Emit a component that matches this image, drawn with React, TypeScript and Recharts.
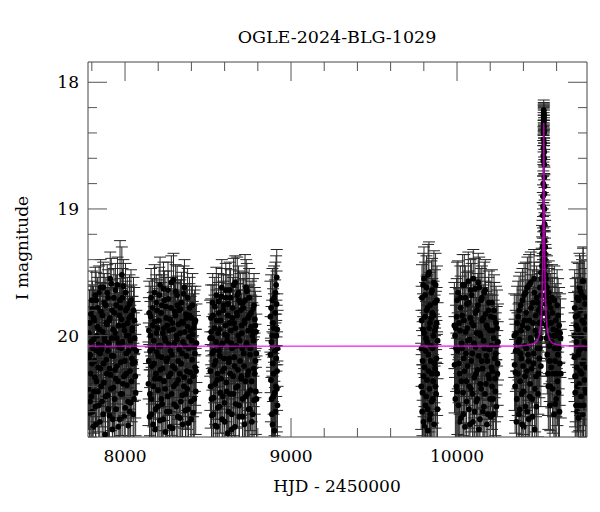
import { ErrorBar, Label, Scatter, ScatterChart, XAxis, YAxis } from "recharts";

// OGLE photometry, one list per observing season: [HJD-2450000, I mag, error]
const season1: number[][] = [
  [7780, 20.42, 0.32], [7783, 19.98, 0.26], [7787, 20.61, 0.36], [7790, 20.15, 0.29], [7794, 19.83, 0.23],
  [7797, 20.48, 0.33], [7801, 20.22, 0.3], [7804, 19.79, 0.22], [7808, 20.72, 0.38], [7811, 20.03, 0.26],
  [7815, 19.88, 0.24], [7819, 20.33, 0.31], [7822, 20.56, 0.35], [7826, 19.72, 0.22], [7829, 20.12, 0.28],
  [7833, 19.93, 0.25], [7837, 20.44, 0.32], [7840, 20.07, 0.27], [7844, 19.66, 0.21], [7848, 20.68, 0.37],
  [7851, 20.26, 0.3], [7855, 19.81, 0.23], [7858, 20.11, 0.28], [7862, 20.52, 0.34], [7866, 19.97, 0.25],
  [7869, 19.62, 0.2], [7873, 20.37, 0.31], [7877, 20.01, 0.26], [7880, 20.78, 0.39], [7884, 19.76, 0.22],
  [7888, 20.19, 0.29], [7891, 19.91, 0.24], [7895, 20.47, 0.33], [7898, 19.7, 0.22], [7902, 20.06, 0.27],
  [7906, 20.63, 0.36], [7909, 19.86, 0.24], [7913, 20.31, 0.3], [7917, 19.59, 0.2], [7920, 20.16, 0.28],
  [7924, 20.74, 0.38], [7928, 19.95, 0.25], [7931, 20.41, 0.32], [7935, 19.82, 0.23], [7939, 20.27, 0.3],
  [7942, 19.64, 0.21], [7946, 20.58, 0.35], [7950, 20.02, 0.26], [7957, 20.36, 0.31], [7961, 19.92, 0.25],
  [7964, 20.09, 0.28], [7968, 20.66, 0.37], [7970, 19.72, 0.47], [7972, 19.78, 0.23], [7975, 20.21, 0.29],
  [7979, 19.87, 0.24], [7981, 19.52, 0.22], [7983, 20.46, 0.33], [7986, 20.05, 0.27], [7990, 19.61, 0.21],
  [7994, 20.32, 0.31], [7997, 19.96, 0.25], [8001, 20.57, 0.35], [8005, 19.8, 0.23], [8008, 20.14, 0.28],
  [8012, 20.39, 0.32], [8016, 19.9, 0.25], [8019, 20.71, 0.38], [8023, 20.0, 0.26], [8027, 19.75, 0.23],
  [8030, 20.28, 0.3], [8034, 20.53, 0.34], [8038, 19.84, 0.24], [8041, 20.18, 0.29], [8045, 19.94, 0.25],
  [8049, 20.62, 0.36], [8053, 20.1, 0.28], [8056, 19.88, 0.26], [8060, 20.21, 0.3], [8064, 20.45, 0.34],
  [8068, 20.12, 0.32],
  [7782, 20.18, 0.3], [7786, 19.9, 0.26], [7789, 20.52, 0.35], [7793, 20.3, 0.31], [7796, 20.05, 0.27],
  [7800, 19.72, 0.23], [7803, 20.6, 0.37], [7807, 20.1, 0.28], [7810, 19.86, 0.25], [7813, 20.44, 0.33],
  [7817, 20.2, 0.3], [7821, 19.68, 0.22], [7824, 20.7, 0.38], [7828, 20.36, 0.32], [7831, 20.0, 0.27],
  [7835, 19.78, 0.24], [7839, 20.25, 0.3], [7842, 20.55, 0.35], [7846, 19.95, 0.26], [7850, 20.14, 0.28],
  [7853, 19.62, 0.22], [7857, 20.4, 0.32], [7860, 20.08, 0.28], [7864, 19.84, 0.25], [7868, 20.62, 0.37],
  [7871, 20.22, 0.3], [7875, 19.74, 0.23], [7879, 20.04, 0.27], [7882, 20.48, 0.34], [7886, 19.9, 0.26],
  [7890, 20.3, 0.31], [7893, 19.66, 0.22], [7897, 20.12, 0.29], [7900, 20.58, 0.36], [7904, 19.88, 0.25],
  [7908, 20.26, 0.3], [7911, 19.55, 0.21], [7915, 20.42, 0.33], [7919, 20.02, 0.27], [7922, 19.8, 0.24],
  [7926, 20.66, 0.37], [7930, 20.16, 0.29], [7933, 19.7, 0.23], [7937, 20.5, 0.34], [7941, 19.98, 0.26],
  [7944, 20.34, 0.31], [7948, 19.76, 0.24], [7952, 20.24, 0.3], [7955, 19.6, 0.22], [7959, 20.72, 0.38],
  [7963, 20.06, 0.28], [7966, 19.84, 0.25], [7974, 20.46, 0.33], [7977, 20.1, 0.28], [7985, 19.7, 0.23],
  [7988, 20.38, 0.32], [7992, 19.92, 0.26], [7995, 20.64, 0.37], [7999, 20.2, 0.29], [8003, 19.66, 0.23],
  [8007, 20.3, 0.31], [8010, 20.0, 0.27], [8014, 19.78, 0.24], [8018, 20.52, 0.35], [8021, 20.12, 0.29],
  [8025, 19.86, 0.25], [8029, 20.6, 0.36], [8032, 20.04, 0.28], [8036, 19.72, 0.24], [8040, 20.36, 0.32],
  [8043, 19.96, 0.27], [8047, 20.22, 0.3], [8051, 19.8, 0.26], [8054, 20.5, 0.35], [8058, 20.02, 0.29],
  [8062, 20.32, 0.33],
];

const season2: number[][] = [
  [8141, 20.38, 0.33], [8144, 19.96, 0.26], [8148, 20.64, 0.37], [8151, 20.12, 0.29], [8155, 19.85, 0.24],
  [8158, 20.5, 0.34], [8162, 20.24, 0.3], [8166, 19.78, 0.23], [8169, 20.7, 0.38], [8173, 20.04, 0.27],
  [8177, 19.89, 0.24], [8180, 20.34, 0.31], [8184, 20.58, 0.35], [8188, 19.74, 0.22], [8191, 20.13, 0.28],
  [8195, 19.94, 0.25], [8199, 20.43, 0.32], [8202, 20.08, 0.27], [8206, 19.68, 0.22], [8210, 20.67, 0.37],
  [8213, 20.27, 0.3], [8217, 19.82, 0.24], [8221, 20.17, 0.29], [8224, 20.54, 0.34], [8228, 19.98, 0.26],
  [8232, 19.63, 0.21], [8235, 20.36, 0.31], [8239, 20.02, 0.26], [8243, 20.76, 0.39], [8246, 19.77, 0.23],
  [8250, 20.2, 0.29], [8254, 19.92, 0.25], [8257, 20.48, 0.33], [8261, 19.71, 0.22], [8265, 20.07, 0.27],
  [8268, 20.6, 0.36], [8272, 19.87, 0.24], [8276, 20.3, 0.3], [8279, 19.58, 0.21], [8283, 20.15, 0.28],
  [8287, 20.73, 0.38], [8290, 19.95, 0.25], [8294, 20.4, 0.32], [8298, 19.81, 0.23], [8301, 20.26, 0.3],
  [8305, 19.65, 0.21], [8309, 20.56, 0.35], [8312, 20.03, 0.26], [8316, 19.76, 0.23], [8320, 20.35, 0.31],
  [8323, 19.91, 0.25], [8327, 20.11, 0.28], [8331, 20.65, 0.37], [8334, 19.79, 0.23], [8338, 20.22, 0.29],
  [8342, 19.89, 0.24], [8345, 20.47, 0.33], [8349, 20.05, 0.27], [8353, 19.67, 0.22], [8356, 20.33, 0.31],
  [8360, 19.97, 0.25], [8364, 20.59, 0.35], [8367, 19.83, 0.24], [8371, 20.16, 0.28], [8375, 20.42, 0.32],
  [8378, 19.93, 0.25], [8382, 20.69, 0.38], [8386, 20.01, 0.26], [8389, 19.78, 0.24], [8393, 20.29, 0.3],
  [8397, 20.52, 0.34], [8400, 19.86, 0.25], [8404, 20.19, 0.29], [8408, 19.99, 0.26], [8411, 20.61, 0.36],
  [8415, 20.09, 0.28], [8419, 19.9, 0.26], [8422, 20.25, 0.3], [8426, 20.44, 0.34], [8430, 20.06, 0.31],
  [8143, 20.2, 0.3], [8146, 19.82, 0.25], [8150, 20.46, 0.33], [8153, 20.0, 0.27], [8157, 19.7, 0.23],
  [8160, 20.62, 0.37], [8164, 20.1, 0.28], [8167, 19.92, 0.26], [8171, 20.4, 0.32], [8175, 20.22, 0.3],
  [8178, 19.66, 0.22], [8182, 20.74, 0.39], [8186, 20.3, 0.31], [8189, 19.98, 0.26], [8193, 19.8, 0.24],
  [8197, 20.56, 0.35], [8200, 20.16, 0.29], [8204, 19.88, 0.25], [8208, 20.34, 0.32], [8211, 19.6, 0.22],
  [8215, 20.08, 0.28], [8219, 20.5, 0.34], [8222, 19.76, 0.24], [8226, 20.26, 0.3], [8230, 20.66, 0.37],
  [8233, 19.94, 0.26], [8237, 19.72, 0.23], [8241, 20.42, 0.33], [8244, 20.04, 0.27], [8248, 19.86, 0.25],
  [8252, 20.6, 0.36], [8255, 20.18, 0.29], [8259, 19.64, 0.22], [8263, 20.32, 0.31], [8266, 19.96, 0.26],
  [8270, 20.72, 0.38], [8274, 20.12, 0.28], [8277, 19.78, 0.24], [8281, 20.46, 0.33], [8285, 19.9, 0.26],
  [8288, 20.24, 0.3], [8292, 19.56, 0.21], [8296, 20.54, 0.35], [8299, 20.06, 0.28], [8303, 19.84, 0.25],
  [8307, 20.38, 0.32], [8310, 20.0, 0.27], [8314, 19.68, 0.23], [8318, 20.64, 0.37], [8321, 20.2, 0.29],
  [8325, 19.8, 0.24], [8329, 20.3, 0.31], [8332, 19.98, 0.26], [8336, 20.52, 0.35], [8340, 19.74, 0.24],
  [8344, 20.14, 0.29], [8347, 20.7, 0.38], [8351, 19.9, 0.26], [8355, 20.4, 0.33], [8358, 19.62, 0.22],
  [8362, 20.08, 0.28], [8366, 20.46, 0.34], [8369, 19.86, 0.25], [8373, 20.28, 0.31], [8377, 19.7, 0.23],
  [8380, 20.58, 0.36], [8384, 20.1, 0.28], [8388, 19.84, 0.25], [8391, 20.36, 0.32], [8395, 19.96, 0.27],
  [8399, 20.66, 0.37], [8402, 20.04, 0.28], [8406, 19.76, 0.25], [8410, 20.32, 0.32], [8413, 19.94, 0.27],
  [8417, 20.5, 0.35], [8421, 20.14, 0.3], [8424, 19.88, 0.27], [8428, 20.28, 0.33],
];

const season3: number[][] = [
  [8513, 20.02, 0.3], [8516, 20.4, 0.33], [8519, 19.97, 0.26], [8523, 20.63, 0.37], [8526, 20.14, 0.29],
  [8530, 19.84, 0.24], [8533, 20.49, 0.34], [8537, 20.23, 0.3], [8541, 19.77, 0.23], [8544, 20.71, 0.38],
  [8548, 20.05, 0.27], [8552, 19.88, 0.24], [8555, 20.35, 0.31], [8559, 20.57, 0.35], [8563, 19.73, 0.22],
  [8566, 20.12, 0.28], [8570, 19.95, 0.25], [8574, 20.45, 0.32], [8577, 20.08, 0.27], [8581, 19.69, 0.22],
  [8585, 20.66, 0.37], [8588, 20.28, 0.3], [8592, 19.8, 0.23], [8596, 20.18, 0.29], [8599, 20.53, 0.34],
  [8603, 19.99, 0.26], [8607, 19.64, 0.21], [8610, 20.37, 0.31], [8614, 20.0, 0.26], [8618, 20.77, 0.39],
  [8621, 19.75, 0.23], [8625, 20.21, 0.29], [8629, 19.9, 0.25], [8632, 20.46, 0.33], [8636, 19.7, 0.22],
  [8640, 20.06, 0.27], [8643, 20.62, 0.36], [8647, 19.86, 0.24], [8651, 20.32, 0.3], [8654, 19.6, 0.21],
  [8658, 20.17, 0.28], [8662, 20.72, 0.38], [8665, 19.94, 0.25], [8669, 20.41, 0.32], [8673, 19.82, 0.23],
  [8676, 19.68, 0.3], [8680, 20.27, 0.3], [8684, 19.66, 0.21], [8687, 20.55, 0.35], [8691, 20.04, 0.26],
  [8695, 19.74, 0.23], [8698, 20.34, 0.31], [8702, 19.92, 0.25], [8706, 20.1, 0.28], [8709, 20.64, 0.37],
  [8713, 19.78, 0.23], [8717, 20.24, 0.29], [8720, 19.88, 0.24], [8723, 19.72, 0.36], [8727, 20.48, 0.33],
  [8731, 20.07, 0.27], [8734, 19.65, 0.22], [8738, 20.31, 0.31], [8742, 19.96, 0.25], [8745, 20.58, 0.35],
  [8749, 19.84, 0.24], [8753, 20.15, 0.28], [8756, 20.43, 0.32], [8760, 19.93, 0.25], [8764, 20.68, 0.38],
  [8767, 20.0, 0.26], [8771, 19.79, 0.24], [8775, 20.26, 0.3], [8778, 20.51, 0.34], [8782, 19.87, 0.25],
  [8786, 20.2, 0.29], [8789, 19.97, 0.28], [8792, 20.5, 0.34],
  [8514, 20.28, 0.31], [8518, 19.86, 0.26], [8521, 20.5, 0.34], [8525, 20.02, 0.28], [8528, 19.74, 0.23],
  [8532, 20.62, 0.37], [8535, 20.12, 0.29], [8539, 19.94, 0.26], [8543, 20.38, 0.32], [8546, 20.2, 0.3],
  [8550, 19.68, 0.22], [8554, 20.72, 0.39], [8557, 20.3, 0.31], [8561, 19.98, 0.27], [8565, 19.82, 0.24],
  [8568, 20.56, 0.35], [8572, 20.16, 0.29], [8576, 19.88, 0.25], [8579, 20.34, 0.32], [8583, 19.62, 0.22],
  [8587, 20.06, 0.28], [8590, 20.48, 0.34], [8594, 19.76, 0.24], [8598, 20.26, 0.3], [8601, 20.68, 0.38],
  [8605, 19.92, 0.26], [8609, 19.7, 0.23], [8612, 20.44, 0.33], [8616, 20.04, 0.27], [8620, 19.84, 0.25],
  [8623, 20.6, 0.36], [8627, 20.18, 0.29], [8631, 19.64, 0.22], [8634, 20.3, 0.31], [8638, 19.96, 0.26],
  [8642, 20.74, 0.39], [8645, 20.1, 0.28], [8649, 19.78, 0.24], [8653, 20.46, 0.33], [8656, 19.9, 0.26],
  [8660, 20.24, 0.3], [8664, 19.58, 0.21], [8667, 20.54, 0.35], [8671, 20.08, 0.28], [8675, 19.84, 0.25],
  [8678, 20.4, 0.32], [8682, 20.0, 0.27], [8686, 19.72, 0.23], [8689, 20.64, 0.37], [8693, 20.2, 0.29],
  [8697, 19.8, 0.24], [8700, 20.32, 0.31], [8704, 19.98, 0.26], [8708, 20.5, 0.35], [8711, 19.74, 0.24],
  [8715, 20.14, 0.29], [8719, 20.7, 0.38], [8722, 19.9, 0.26], [8726, 20.36, 0.33], [8730, 19.62, 0.22],
  [8733, 20.06, 0.28], [8737, 20.46, 0.34], [8741, 19.86, 0.25], [8744, 20.28, 0.31], [8748, 19.7, 0.23],
  [8752, 20.58, 0.36], [8755, 20.1, 0.28], [8759, 19.82, 0.25], [8763, 20.36, 0.32], [8766, 19.96, 0.27],
  [8770, 20.62, 0.37], [8774, 20.04, 0.28], [8777, 19.76, 0.25], [8781, 20.3, 0.32], [8785, 19.92, 0.27],
  [8788, 20.44, 0.34], [8791, 20.14, 0.31],
];

const season4: number[][] = [
  [8876, 19.85, 0.28], [8879, 20.35, 0.33], [8882, 20.05, 0.28], [8885, 20.62, 0.37], [8888, 19.72, 0.25],
  [8891, 20.22, 0.3], [8894, 20.48, 0.34], [8897, 19.94, 0.27], [8900, 20.75, 0.39], [8903, 20.12, 0.29],
  [8906, 19.66, 0.24], [8909, 20.4, 0.32], [8910, 19.6, 0.23], [8912, 20.0, 0.28], [8914, 19.54, 0.22],
  [8916, 20.28, 0.31], [8918, 20.55, 0.35],
  [8877, 20.15, 0.3], [8880, 19.78, 0.26], [8883, 20.5, 0.35], [8886, 20.0, 0.28], [8889, 20.7, 0.38],
  [8892, 19.9, 0.27], [8895, 20.3, 0.32], [8898, 19.7, 0.25], [8901, 20.45, 0.34], [8904, 19.82, 0.26],
  [8907, 20.6, 0.37], [8911, 20.18, 0.3], [8913, 19.75, 0.26], [8915, 20.42, 0.34], [8917, 19.95, 0.28],
  [8919, 20.1, 0.3],
];

const season5: number[][] = [
  [9786, 20.1, 0.3], [9789, 19.7, 0.26], [9792, 20.45, 0.34], [9795, 19.95, 0.28], [9798, 20.68, 0.38],
  [9801, 19.55, 0.25], [9804, 20.25, 0.31], [9807, 19.85, 0.27], [9810, 20.55, 0.36], [9813, 20.02, 0.29],
  [9816, 19.62, 0.25], [9819, 20.35, 0.33], [9822, 19.78, 0.26], [9825, 20.75, 0.4], [9828, 20.15, 0.3],
  [9831, 19.5, 0.24], [9834, 20.42, 0.34], [9837, 19.9, 0.27], [9840, 20.62, 0.37], [9843, 20.08, 0.29],
  [9846, 19.66, 0.25], [9849, 20.3, 0.32], [9852, 19.82, 0.27], [9855, 20.5, 0.35], [9858, 20.0, 0.29],
  [9861, 19.58, 0.25], [9864, 20.22, 0.31], [9867, 19.74, 0.26], [9870, 20.4, 0.33], [9873, 19.93, 0.28],
  [9876, 20.18, 0.3], [9879, 19.72, 0.27], [9882, 20.58, 0.36],
  [9784, 20.4, 0.34], [9787, 19.88, 0.27], [9790, 20.6, 0.37], [9793, 20.2, 0.31], [9796, 19.6, 0.25],
  [9799, 20.32, 0.32], [9802, 19.98, 0.28], [9805, 20.72, 0.39], [9808, 19.68, 0.26], [9811, 20.12, 0.3],
  [9814, 20.48, 0.35], [9817, 19.8, 0.27], [9820, 20.05, 0.29], [9823, 20.58, 0.36], [9826, 19.52, 0.24],
  [9829, 20.28, 0.32], [9832, 19.94, 0.28], [9835, 20.66, 0.38], [9838, 19.76, 0.26], [9841, 20.2, 0.31],
  [9844, 19.86, 0.27], [9847, 20.52, 0.35], [9850, 19.64, 0.25], [9853, 20.1, 0.3], [9856, 20.36, 0.33],
  [9859, 19.84, 0.27], [9862, 20.7, 0.39], [9865, 19.96, 0.28], [9868, 20.26, 0.32], [9871, 19.6, 0.25],
  [9874, 20.46, 0.35], [9877, 19.9, 0.28], [9880, 20.3, 0.33], [9883, 20.04, 0.3],
];

const season6: number[][] = [
  [9985, 20.23, 0.38], [9988, 20.0, 0.33], [9992, 19.94, 0.32], [9996, 20.4, 0.42], [10000, 19.72, 0.3],
  [10004, 20.12, 0.3], [10008, 20.55, 0.36], [10012, 19.9, 0.27], [10016, 20.3, 0.32], [10020, 19.7, 0.25],
  [10024, 20.65, 0.38], [10028, 20.06, 0.28], [10032, 19.84, 0.26], [10036, 20.45, 0.34], [10040, 20.18, 0.3],
  [10044, 19.6, 0.24], [10048, 20.72, 0.39], [10052, 19.97, 0.27], [10056, 20.36, 0.33], [10060, 19.75, 0.25],
  [10064, 20.24, 0.31], [10068, 19.57, 0.23], [10072, 20.58, 0.36], [10076, 20.03, 0.28], [10080, 19.86, 0.26],
  [10084, 20.42, 0.34], [10088, 19.68, 0.25], [10092, 20.14, 0.3], [10096, 20.68, 0.38], [10100, 19.92, 0.27],
  [10104, 20.33, 0.32], [10108, 19.63, 0.24], [10112, 20.09, 0.29], [10116, 20.52, 0.35], [10120, 19.8, 0.26],
  [10124, 20.27, 0.31], [10128, 19.58, 0.23], [10132, 20.74, 0.4], [10136, 19.98, 0.28], [10140, 20.38, 0.33],
  [10144, 19.72, 0.25], [10148, 20.2, 0.3], [10152, 19.88, 0.26], [10156, 20.6, 0.37], [10160, 20.04, 0.28],
  [10164, 19.66, 0.24], [10168, 20.46, 0.34], [10172, 19.83, 0.26], [10176, 20.16, 0.3], [10180, 20.7, 0.39],
  [10184, 19.94, 0.27], [10188, 20.31, 0.32], [10192, 19.74, 0.25], [10196, 20.11, 0.29], [10200, 20.5, 0.35],
  [10204, 19.85, 0.27], [10208, 20.25, 0.31], [10211, 20.4, 0.34], [10215, 19.96, 0.28], [10219, 20.62, 0.37],
  [10223, 19.8, 0.28], [10227, 20.18, 0.31], [10231, 20.44, 0.35], [10235, 19.9, 0.29], [10239, 20.08, 0.31],
  [10243, 20.3, 0.34], [10247, 20.05, 0.3],
  [9984, 19.92, 0.34], [9990, 20.5, 0.4], [9994, 20.1, 0.34], [9998, 19.85, 0.3], [10002, 20.44, 0.34],
  [10006, 19.66, 0.25], [10010, 20.22, 0.31], [10014, 20.68, 0.38], [10018, 19.96, 0.27], [10022, 19.78, 0.25],
  [10026, 20.36, 0.33], [10030, 20.1, 0.29], [10034, 19.6, 0.24], [10038, 20.62, 0.37], [10042, 19.88, 0.26],
  [10046, 20.28, 0.32], [10050, 19.7, 0.25], [10054, 20.14, 0.3], [10058, 20.52, 0.35], [10062, 19.94, 0.27],
  [10066, 20.04, 0.28], [10070, 19.74, 0.25], [10074, 20.4, 0.33], [10078, 20.7, 0.39], [10082, 19.64, 0.24],
  [10086, 20.2, 0.3], [10090, 19.9, 0.27], [10094, 20.46, 0.34], [10098, 19.55, 0.23], [10102, 20.06, 0.29],
  [10106, 20.6, 0.37], [10110, 19.82, 0.26], [10114, 20.3, 0.32], [10118, 19.98, 0.28], [10122, 20.5, 0.35],
  [10126, 19.76, 0.25], [10130, 20.16, 0.3], [10134, 19.62, 0.24], [10138, 20.66, 0.38], [10142, 20.0, 0.28],
  [10146, 20.42, 0.34], [10150, 19.7, 0.25], [10154, 20.26, 0.31], [10158, 19.86, 0.26], [10162, 20.56, 0.36],
  [10166, 20.1, 0.29], [10170, 19.64, 0.24], [10174, 20.38, 0.33], [10178, 19.92, 0.27], [10182, 20.2, 0.31],
  [10186, 20.62, 0.37], [10190, 19.8, 0.26], [10194, 20.34, 0.32], [10198, 19.96, 0.28], [10202, 20.64, 0.38],
  [10206, 20.08, 0.29], [10210, 19.74, 0.26], [10213, 20.28, 0.32], [10217, 20.5, 0.36], [10221, 20.02, 0.3],
  [10225, 19.86, 0.28], [10229, 20.34, 0.34], [10233, 20.14, 0.32], [10237, 20.56, 0.37], [10241, 19.94, 0.3],
  [10245, 20.22, 0.33],
];

const season7: number[][] = [
  [10347, 20.23, 0.36], [10352, 20.29, 0.38], [10356, 19.98, 0.3], [10360, 20.5, 0.36], [10364, 20.12, 0.3],
  [10368, 19.85, 0.28], [10372, 20.62, 0.38], [10376, 20.03, 0.29], [10380, 20.36, 0.33], [10384, 19.76, 0.26],
  [10388, 20.18, 0.3], [10392, 20.7, 0.39], [10396, 19.92, 0.28], [10400, 20.44, 0.34], [10404, 19.68, 0.25],
  [10408, 20.08, 0.29], [10412, 20.56, 0.36], [10416, 19.82, 0.26], [10420, 20.28, 0.31], [10424, 19.62, 0.24],
  [10428, 20.15, 0.3], [10432, 20.66, 0.38], [10436, 19.88, 0.27], [10440, 20.38, 0.33], [10444, 19.58, 0.24],
  [10448, 20.04, 0.29], [10452, 20.5, 0.35], [10456, 19.74, 0.26], [10460, 20.22, 0.31], [10464, 19.55, 0.23],
  [10468, 20.74, 0.4], [10472, 19.96, 0.28], [10476, 20.32, 0.32], [10480, 19.7, 0.25], [10484, 20.1, 0.3],
  [10488, 20.46, 0.34], [10492, 19.8, 0.26], [10496, 20.18, 0.31], [10500, 19.62, 0.25], [10503, 20.02, 0.3],
  [10506, 19.5, 0.24], [10509, 19.82, 0.27], [10512, 19.35, 0.22], [10514, 19.62, 0.25], [10516, 19.15, 0.2],
  [10517, 19.05, 0.18], [10518, 18.9, 0.16], [10519, 19.4, 0.22], [10519.5, 18.8, 0.15], [10520, 18.62, 0.12],
  [10520.5, 18.52, 0.11], [10521, 18.45, 0.1], [10521.5, 18.36, 0.1], [10522, 18.3, 0.09], [10522.2, 18.27, 0.09],
  [10522.5, 18.24, 0.08], [10522.8, 18.26, 0.08], [10523, 18.28, 0.09], [10523.2, 18.31, 0.09], [10523.5, 18.35, 0.09],
  [10524, 18.4, 0.1], [10525, 18.55, 0.11], [10525.5, 18.65, 0.12], [10526, 18.75, 0.14], [10526.5, 18.88, 0.15],
  [10527, 19.0, 0.17], [10528, 19.25, 0.2], [10528.5, 19.35, 0.21], [10530, 19.45, 0.22], [10532, 19.6, 0.24],
  [10534, 19.75, 0.26], [10536, 19.55, 0.24], [10538, 19.92, 0.28], [10541, 19.7, 0.26], [10544, 20.15, 0.31],
  [10547, 19.85, 0.28], [10550, 20.4, 0.34], [10553, 19.66, 0.25], [10556, 20.08, 0.3], [10560, 20.55, 0.37],
  [10564, 19.78, 0.27], [10568, 20.25, 0.32], [10572, 19.7, 0.26], [10576, 20.42, 0.35], [10580, 19.95, 0.29],
  [10584, 20.62, 0.38], [10588, 20.1, 0.31], [10591, 20.54, 0.37], [10595, 19.88, 0.29], [10599, 20.3, 0.34],
  [10603, 19.76, 0.28], [10607, 20.15, 0.32], [10611, 20.45, 0.36], [10615, 19.92, 0.3], [10619, 20.22, 0.33],
  [10623, 20.02, 0.31],
  [10345, 20.0, 0.33], [10350, 20.4, 0.37], [10354, 20.12, 0.32], [10358, 20.68, 0.4], [10362, 19.9, 0.29],
  [10366, 20.3, 0.33], [10370, 20.05, 0.3], [10374, 19.8, 0.27], [10378, 20.58, 0.37], [10382, 20.14, 0.3],
  [10386, 19.96, 0.28], [10390, 20.46, 0.34], [10394, 19.72, 0.25], [10398, 20.24, 0.31], [10402, 20.72, 0.4],
  [10406, 19.88, 0.27], [10410, 20.32, 0.32], [10414, 19.66, 0.24], [10418, 20.1, 0.29], [10422, 20.6, 0.37],
  [10426, 19.94, 0.28], [10430, 20.2, 0.31], [10434, 19.6, 0.24], [10438, 20.48, 0.34], [10442, 20.02, 0.29],
  [10446, 19.78, 0.26], [10450, 20.26, 0.31], [10454, 20.64, 0.38], [10458, 19.9, 0.27], [10462, 20.14, 0.3],
  [10466, 19.66, 0.24], [10470, 20.42, 0.34], [10474, 19.84, 0.27], [10478, 20.56, 0.36], [10482, 20.0, 0.29],
  [10486, 19.74, 0.25], [10490, 20.3, 0.32], [10494, 19.9, 0.28], [10498, 20.1, 0.3], [10501, 19.78, 0.27],
  [10505, 20.24, 0.32], [10507, 19.68, 0.26], [10510, 19.55, 0.24], [10511, 19.9, 0.28], [10513, 19.45, 0.23],
  [10515, 19.3, 0.21], [10516.5, 19.5, 0.24], [10517.5, 19.2, 0.2], [10518.5, 18.98, 0.17], [10520.2, 18.58, 0.12],
  [10521.2, 18.4, 0.1], [10521.8, 18.33, 0.09], [10522.4, 18.22, 0.08], [10522.6, 18.29, 0.09], [10523.4, 18.25, 0.08],
  [10523.8, 18.38, 0.1], [10524.5, 18.48, 0.11], [10525.2, 18.6, 0.12], [10526.2, 18.82, 0.15], [10527.5, 19.12, 0.19],
  [10529, 19.4, 0.22], [10531, 19.3, 0.21], [10533, 19.52, 0.24], [10535, 19.68, 0.26], [10537, 19.82, 0.27],
  [10539, 20.02, 0.3], [10542, 19.62, 0.25], [10545, 19.9, 0.28], [10548, 20.3, 0.33], [10552, 20.0, 0.3],
  [10555, 19.74, 0.27], [10558, 20.2, 0.32], [10562, 20.4, 0.35], [10566, 19.9, 0.29], [10570, 20.05, 0.31],
  [10574, 19.82, 0.28], [10578, 20.3, 0.34], [10582, 20.0, 0.3], [10586, 19.72, 0.27], [10590, 20.2, 0.33],
  [10593, 20.0, 0.31], [10597, 20.5, 0.37], [10601, 19.96, 0.3], [10605, 20.36, 0.35], [10609, 19.84, 0.29],
  [10613, 20.1, 0.32], [10617, 20.6, 0.39], [10621, 19.98, 0.31], [10625, 20.3, 0.35],
];

const season8: number[][] = [
  [10708, 20.17, 0.35], [10711, 20.32, 0.4], [10714, 19.85, 0.3], [10717, 20.55, 0.4], [10720, 20.05, 0.32],
  [10723, 19.7, 0.28], [10726, 20.4, 0.36], [10729, 19.95, 0.3], [10732, 20.65, 0.42], [10735, 20.12, 0.33],
  [10738, 19.62, 0.27], [10741, 20.28, 0.35], [10744, 19.8, 0.29], [10747, 20.48, 0.38], [10750, 20.0, 0.31],
  [10753, 19.68, 0.28], [10756, 20.22, 0.34], [10759, 19.57, 0.26], [10762, 20.55, 0.4], [10765, 19.9, 0.3],
  [10768, 20.35, 0.36], [10771, 19.75, 0.28], [10774, 20.1, 0.32], [10777, 20.45, 0.38], [10780, 19.85, 0.3],
  [10706, 20.0, 0.34], [10709, 19.78, 0.3], [10712, 20.45, 0.4], [10715, 20.32, 0.36], [10718, 19.92, 0.31],
  [10721, 20.25, 0.35], [10724, 20.6, 0.42], [10727, 19.84, 0.3], [10730, 20.15, 0.33], [10733, 19.72, 0.29],
  [10736, 20.38, 0.37], [10739, 20.0, 0.32], [10742, 20.55, 0.4], [10745, 19.65, 0.28], [10748, 20.1, 0.33],
  [10751, 20.3, 0.36], [10754, 19.88, 0.3], [10757, 20.62, 0.42], [10760, 19.57, 0.27], [10763, 20.2, 0.34],
  [10766, 20.05, 0.32], [10769, 19.7, 0.29], [10772, 20.42, 0.38], [10775, 19.95, 0.31], [10778, 20.25, 0.35],
  [10781, 20.08, 0.33],
];

// microlensing model: [HJD-2450000, I mag]
const modelCurve: number[][] = [
  [7777, 20.084], [10360, 20.083], [10410, 20.078], [10445, 20.07], [10470, 20.06], [10487, 20.035],
  [10497, 19.99], [10504, 19.92], [10509, 19.82], [10513, 19.66], [10516, 19.47], [10518, 19.27],
  [10519.5, 19.06], [10520.5, 18.86], [10521.3, 18.62], [10522, 18.42], [10522.5, 18.32], [10523, 18.42],
  [10523.7, 18.62], [10524.5, 18.86], [10525.5, 19.06], [10527, 19.27], [10529, 19.47], [10532, 19.66],
  [10536, 19.82], [10541, 19.92], [10548, 19.99], [10558, 20.035], [10575, 20.06], [10600, 20.07],
  [10635, 20.078], [10685, 20.083], [10783, 20.084],
];

const xTicks = [7800, 8000, 8200, 8400, 8600, 8800, 9000, 9200, 9400, 9600, 9800, 10000, 10200, 10400, 10600];
const yTicks = [18, 18.2, 18.4, 18.6, 18.8, 19, 19.2, 19.4, 19.6, 19.8, 20, 20.2, 20.4, 20.6, 20.8];

const FONT = "'DejaVu Serif', serif";
const TICK = "#555";
const MAJOR = 19;
const MINOR = 9;
// plot frame inside the 600x512 chart (axis sizes below), used to clip error bars
const PLOT = { x: 88, y: 62, w: 499, h: 375 };

const observations = [...season1, ...season2, ...season3, ...season4, ...season5, ...season6, ...season7, ...season8].map(
  ([t, m, e]) => ({ t, m, e })
);
const model = modelCurve.map(([t, m]) => ({ t, m }));

const isMajorY = (v: number) => Math.abs(v - Math.round(v)) < 1e-6;

function BottomTick({ x, y, payload }: any) {
  const major = payload.value % 1000 === 0;
  return (
    <g>
      <line x1={x} x2={x} y1={y} y2={y - (major ? MAJOR : MINOR)} stroke={TICK} />
      {major && (
        <text x={x} y={y + 25} textAnchor="middle" fontFamily={FONT} fontSize={17} fill="#000">
          {payload.value}
        </text>
      )}
    </g>
  );
}

function TopTick({ x, y, payload }: any) {
  const major = payload.value % 1000 === 0;
  return <line x1={x} x2={x} y1={y} y2={y + (major ? MAJOR : MINOR)} stroke={TICK} />;
}

function LeftTick({ x, y, payload }: any) {
  const major = isMajorY(payload.value);
  return (
    <g>
      <line x1={x} x2={x + (major ? MAJOR : MINOR)} y1={y} y2={y} stroke={TICK} />
      {major && (
        <text x={x - 9} y={y + 6} textAnchor="end" fontFamily={FONT} fontSize={17} fill="#000">
          {Math.round(payload.value)}
        </text>
      )}
    </g>
  );
}

function RightTick({ x, y, payload }: any) {
  const major = isMajorY(payload.value);
  return <line x1={x} x2={x - (major ? MAJOR : MINOR)} y1={y} y2={y} stroke={TICK} />;
}

const Dot = (p: any) => <circle cx={p.cx} cy={p.cy} r={2.9} fill="#000" />;
const NoDot = () => <g />;

export default function App() {
  return (
    <div style={{ position: "absolute", left: 0, top: 0, background: "#fff" }}>
      <style>{`.recharts-scatter, [class*="recharts-errorBar"] { clip-path: url(#plot-clip); }`}</style>
      <svg width={0} height={0} style={{ position: "absolute" }}>
        <defs>
          <clipPath id="plot-clip" clipPathUnits="userSpaceOnUse">
            <rect x={PLOT.x} y={PLOT.y} width={PLOT.w} height={PLOT.h} />
          </clipPath>
        </defs>
      </svg>
      <ScatterChart width={600} height={512} margin={{ top: 0, right: 0, bottom: 0, left: 0 }}>
        <XAxis
          xAxisId="b"
          type="number"
          dataKey="t"
          domain={[7777, 10783]}
          allowDataOverflow
          ticks={xTicks}
          interval={0}
          height={75}
          tickSize={0}
          tickMargin={0}
          tickLine={false}
          tick={<BottomTick />}
          axisLine={{ stroke: "#444" }}
          label={
            <Label
              content={() => (
                <text x={337} y={492} textAnchor="middle" fontFamily={FONT} fontSize={17} fill="#000">
                  HJD - 2450000
                </text>
              )}
            />
          }
        />
        <XAxis
          xAxisId="t"
          orientation="top"
          type="number"
          dataKey="t"
          domain={[7777, 10783]}
          allowDataOverflow
          ticks={xTicks}
          interval={0}
          height={62}
          tickSize={0}
          tickMargin={0}
          tickLine={false}
          tick={<TopTick />}
          axisLine={{ stroke: "#444" }}
          label={
            <Label
              content={() => (
                <text x={337} y={43} textAnchor="middle" fontFamily={FONT} fontSize={17.5} fill="#000">
                  OGLE-2024-BLG-1029
                </text>
              )}
            />
          }
        />
        <YAxis
          yAxisId="l"
          type="number"
          dataKey="m"
          reversed
          domain={[17.84, 20.8]}
          allowDataOverflow
          ticks={yTicks}
          interval={0}
          width={88}
          tickSize={0}
          tickMargin={0}
          tickLine={false}
          tick={<LeftTick />}
          axisLine={{ stroke: "#444" }}
          label={
            <Label
              content={() => (
                <text
                  x={28}
                  y={248}
                  transform="rotate(-90 28 248)"
                  textAnchor="middle"
                  fontFamily={FONT}
                  fontSize={17}
                  fill="#000"
                >
                  I magnitude
                </text>
              )}
            />
          }
        />
        <YAxis
          yAxisId="r"
          orientation="right"
          type="number"
          dataKey="m"
          reversed
          domain={[17.84, 20.8]}
          allowDataOverflow
          ticks={yTicks}
          interval={0}
          width={13}
          tickSize={0}
          tickMargin={0}
          tickLine={false}
          tick={<RightTick />}
          axisLine={{ stroke: "#444" }}
        />
        <Scatter xAxisId="b" yAxisId="l" data={observations} shape={Dot} isAnimationActive={false}>
          <ErrorBar dataKey="e" direction="y" width={6} stroke="#262626" strokeWidth={1} isAnimationActive={false} />
        </Scatter>
        <Scatter
          xAxisId="b"
          yAxisId="l"
          data={model}
          shape={NoDot}
          line={{ stroke: "#ee00ee", strokeWidth: 1.6, strokeOpacity: 0.7 }}
          isAnimationActive={false}
        />
      </ScatterChart>
    </div>
  );
}
